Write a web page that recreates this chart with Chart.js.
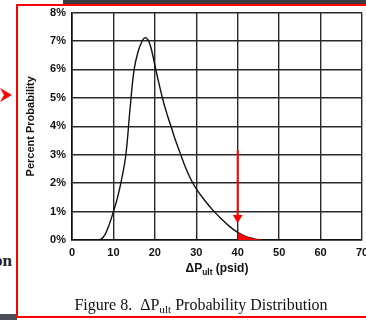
<!DOCTYPE html>
<html>
<head>
<meta charset="utf-8">
<script src="https://cdn.jsdelivr.net/npm/chart.js@4.4.0/dist/chart.umd.min.js"></script>
<style>
  body { margin: 0; background: #fff; }
  #wrap { position: relative; width: 366px; height: 320px; overflow: hidden; background: #fff; }
  #chart { position: absolute; left: 0; top: 0; }
  .topbar { position: absolute; left: 63px; top: 0; width: 303px; height: 4px; background: #3c3c3c; }
  .botbar { position: absolute; left: 0; top: 314px; width: 17px; height: 6px; background: #4a5055; }
  .frame { position: absolute; left: 16px; top: 4px; width: 360px; height: 314px; border: 2px solid #f00; box-sizing: border-box; }
  .side { position: absolute; left: -6px; top: 251px; font: bold 17px "Liberation Serif", serif; color: #222; }
  .xtitle { position: absolute; left: 0; width: 434px; top: 261px; text-align: center; font: bold 12px "Liberation Sans", Arial, sans-serif; color: #111; }
  .caption { position: absolute; left: 18px; width: 366px; top: 296px; text-align: center; font: 16px "Liberation Serif", "Times New Roman", serif; color: #111; }
  sub { font-size: 70%; vertical-align: -3px; line-height: 0; }
</style>
</head>
<body>
<div id="wrap">
  <div class="topbar"></div>
  <div class="side">on</div>
  <div class="botbar"></div>
  <svg style="position:absolute;left:0;top:86px" width="16" height="18"><polygon points="0,2 12,9 0,16 4,9" fill="#f00"/></svg>
  <canvas id="chart" width="366" height="320"></canvas>
  <div class="frame"></div>
  <div class="xtitle">&Delta;P<sub>ult</sub> (psid)</div>
  <div class="caption">Figure 8.&nbsp; &Delta;P<sub>ult</sub> Probability Distribution</div>
</div>
<script>
// curve (psid, percent)
const dpValues = [6, 7, 8, 9, 10, 11, 12, 13, 14, 15, 16, 17, 17.6, 18.3, 19, 20, 21, 22, 23, 24, 25, 26, 27, 28, 29, 30, 32, 34, 36, 38, 40, 42, 44, 46];
const probValues = [0, 0.03, 0.2, 0.55, 1.0, 1.5, 2.15, 3.0, 4.6, 6.0, 6.65, 7.02, 7.12, 7.05, 6.8, 6.15, 5.5, 4.9, 4.4, 3.95, 3.5, 3.1, 2.7, 2.35, 2.05, 1.8, 1.4, 1.05, 0.75, 0.48, 0.27, 0.12, 0.04, 0];
const tailStart = 40;
const xTicks = [0, 10, 20, 30, 40, 50, 60, 70];
const yTicks = [0, 1, 2, 3, 4, 5, 6, 7, 8];
const arrowX = 40;
const arrowFrom = 3.15;
const arrowTo = 0.6;

const curve = dpValues.map((x, i) => ({ x: x, y: probValues[i] }));
const tail = curve.filter(p => p.x >= tailStart);

const arrowPlugin = {
  id: 'arrow',
  afterDatasetsDraw(chart) {
    const ctx = chart.ctx;
    const xs = chart.scales.x, ys = chart.scales.y;
    const px = xs.getPixelForValue(arrowX);
    const y1 = ys.getPixelForValue(arrowFrom);
    const y2 = ys.getPixelForValue(arrowTo);
    ctx.save();
    ctx.strokeStyle = '#f00';
    ctx.fillStyle = '#f00';
    ctx.lineWidth = 2;
    ctx.beginPath();
    ctx.moveTo(px, y1);
    ctx.lineTo(px, y2 - 6);
    ctx.stroke();
    ctx.beginPath();
    ctx.moveTo(px - 5, y2 - 8);
    ctx.lineTo(px + 5, y2 - 8);
    ctx.lineTo(px, y2);
    ctx.closePath();
    ctx.fill();
    ctx.restore();
  }
};

new Chart(document.getElementById('chart'), {
  type: 'scatter',
  data: {
    datasets: [{
      data: tail,
      showLine: true,
      borderColor: '#f00',
      borderWidth: 0,
      backgroundColor: '#f00',
      fill: 'origin',
      pointRadius: 0,
      tension: 0.4
    }, {
      data: curve,
      showLine: true,
      borderColor: '#111',
      borderWidth: 1.4,
      fill: false,
      pointRadius: 0,
      tension: 0.4
    }]
  },
  plugins: [arrowPlugin],
  options: {
    responsive: false,
    animation: false,
    events: [],
    layout: { padding: { left: 22, top: 12, right: 4, bottom: 60 } },
    plugins: { legend: { display: false }, tooltip: { enabled: false } },
    scales: {
      x: {
        type: 'linear', min: 0, max: 70,
        afterBuildTicks: s => { s.ticks = xTicks.map(v => ({ value: v })); },
        afterFit: s => { s.height = 20; s.paddingLeft = 0; s.paddingRight = 0; },
        border: { display: true, color: '#111', width: 1.6 },
        grid: { color: '#2a2a2a', lineWidth: 1.4, drawTicks: false },
        ticks: { color: '#111', padding: 6, maxRotation: 0, font: { family: 'Liberation Sans, Arial', size: 11, weight: 'bold' } }
      },
      y: {
        min: 0, max: 8,
        afterBuildTicks: s => { s.ticks = yTicks.map(v => ({ value: v })); },
        afterFit: s => { s.width = 50; },
        border: { display: true, color: '#111', width: 1.6 },
        grid: { color: '#2a2a2a', lineWidth: 1.4, drawTicks: false },
        title: { display: true, text: 'Percent Probability', color: '#111', padding: { top: 2, bottom: 0 }, font: { family: 'Liberation Sans, Arial', size: 11, weight: 'bold' } },
        ticks: { color: '#111', padding: 6, callback: v => v + '%', font: { family: 'Liberation Sans, Arial', size: 11, weight: 'bold' } }
      }
    }
  }
});
</script>
</body>
</html>
